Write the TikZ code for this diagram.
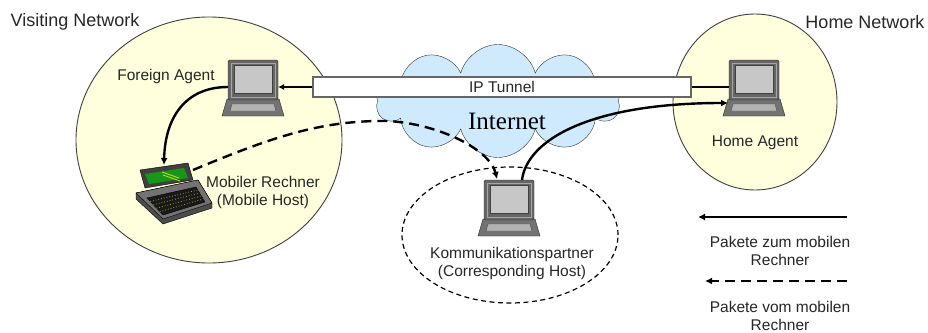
\documentclass[tikz,border=0pt]{standalone}
\usepackage{fontspec}
\setmainfont{Liberation Sans}
\newfontfamily\netfont{Liberation Serif}
\usepackage{tikz}
\usetikzlibrary{arrows.meta,positioning}
\usetikzlibrary{calc}
\usetikzlibrary{shapes.geometric,shapes.symbols}
\definecolor{zoneyellow}{RGB}{255,255,222}
\definecolor{cloudblue}{RGB}{206,234,252}
\definecolor{lcdgreen}{RGB}{24,150,24}
\tikzset{>=Latex}

\tikzset{
  pc/.pic={
    % keyboard
    \filldraw[fill=black!55, draw=black!85] (-26,-19) -- (26,-19) -- (31,-36) -- (-31,-36) -- cycle;
    \filldraw[fill=black!30, draw=black!70] (-21,-24) -- (21,-24) -- (23,-31) -- (-23,-31) -- cycle;
    % monitor
    \filldraw[fill=black!60, draw=black!85, rounded corners=1.5pt] (-25,-20) rectangle (25,20);
    \draw[black!35, line width=1pt] (-22,-17) rectangle (22,17);
    \filldraw[fill=black!22, draw=black!75] (-19,-13) rectangle (19,15);
    \coordinate (-w) at (-25,-7);
    \coordinate (-e) at (25,-7);
    \coordinate (-nw) at (-12,21);
    \coordinate (-ne) at (13,20);
    \coordinate (-sw) at (-26,-23);
  },
  laptop/.pic={
    % base and keys
    \filldraw[fill=black!70, draw=black] (-36,-2) -- (26,11) -- (40,-12) -- (40,-17) -- (-9,-33) -- (-36,-8) -- cycle;
    \filldraw[fill=black!55, draw=black] (-36,-2) -- (26,11) -- (40,-12) -- (-9,-28) -- cycle;
    \filldraw[fill=black!90, draw=black] (-25,-7) -- (24,4) -- (33,-11) -- (-9,-24) -- cycle;
    \foreach \k in {0.2,0.4,0.6,0.8}
      \draw[yellow!60!black, dotted, line width=0.8pt] ($(-25,-7)!\k!(-9,-24)$) -- ($(24,4)!\k!(33,-11)$);
    % lid
    \filldraw[fill=black!75, draw=black] (-32,21) -- (16,28) -- (21,11) -- (-27,3) -- cycle;
    \fill[lcdgreen] (-27,17) -- (12,23) -- (16,13) -- (-23,7) -- cycle;
    \draw[yellow!80!green, line width=0.8pt] (-10,19) -- (7,13) (-9,16) -- (8,10);
    \coordinate (-top) at (-8,26);
    \coordinate (-port) at (21,21);
  }
}

\begin{document}
\begin{tikzpicture}[x=1pt, y=1pt,
                every node/.append style={align=center, text=black!85},
                lbl/.style={font=\fontsize{15.5}{18}\selectfont},
                head/.style={font=\fontsize{18}{20}\selectfont},
                zone/.style={ellipse, draw=black!75, fill=zoneyellow, line width=0.9pt, inner sep=0},
                link/.style={line width=1.6pt},
                flow/.style={line width=2.4pt, -{Latex[length=7pt,width=7pt]}},
                back/.style={dash pattern=on 10pt off 6pt}]

\useasboundingbox (0,0) rectangle (928,-332);

\node[zone, minimum width=266pt, minimum height=246pt] (visit) at (209,-140) {};
\node[zone, minimum width=164pt, minimum height=176pt] (home) at (755,-102) {};
\node[ellipse, draw, dashed, line width=1.2pt, dash pattern=on 5pt off 3.5pt,
      minimum width=216pt, minimum height=136pt] (chzone) at (510,-235) {};

\node[cloud, cloud puffs=10, cloud ignores aspect, draw=black!80, fill=cloudblue,
      minimum width=243pt, minimum height=113pt] (inet) at (498,-101) {};
\node[font=\netfont\fontsize{25}{25}\selectfont, text=black] (inettxt) at (507,-121) {Internet};
\node[lbl, draw=black!60, fill=white, line width=1.2pt, inner sep=0,
      minimum width=378pt, minimum height=20pt] (tunnel) at (502,-87) {IP Tunnel};

\pic (fa) at (253,-80) {pc};
\pic (ha) at (754,-80) {pc};
\pic (ch) at (509,-200) {pc};
\pic (mh) at (172,-191) {laptop};

\node[head] (visittxt) at (75,-22) {Visiting Network};
\node[head] (hometxt) at (865,-22) {Home Network};
\node[lbl] (fatxt) at (166,-76) {Foreign Agent};
\node[lbl] (hatxt) at (755,-143) {Home Agent};
\node[lbl] (mhtxt) at (263,-192) {Mobiler Rechner\\(Mobile Host)};
\node[lbl] (chtxt) at (512,-263) {Kommunikationspartner\\(Corresponding Host)};

\draw[link, -{Latex[length=6pt,width=6pt]}] (tunnel.west) -- (fa-e);
\draw[link] (tunnel.east) -- (ha-w);
\draw[flow] (fa-w) .. controls +(-43,0) and +(1,47) .. (mh-top);
\draw[flow, back] (mh-port) .. controls (270,-138) and (320,-120) .. (388,-121)
    .. controls (440,-124) and (490,-150) .. (ch-nw);
\draw[flow] (ch-ne) .. controls (527,-140) and (590,-103) .. (ha-sw);

% legend
\coordinate (key1) at (847,-217);
\coordinate (key1end) at (698,-217);
\coordinate (key2) at (847,-281);
\coordinate (key2end) at (705,-281);
\draw[flow] (key1) -- (key1end);
\node[lbl] (key1txt) at (780,-251) {Pakete zum mobilen\\Rechner};
\draw[flow, back] (key2) -- (key2end);
\node[lbl] (key2txt) at (780,-316) {Pakete vom mobilen\\Rechner};

\end{tikzpicture}
\end{document}
